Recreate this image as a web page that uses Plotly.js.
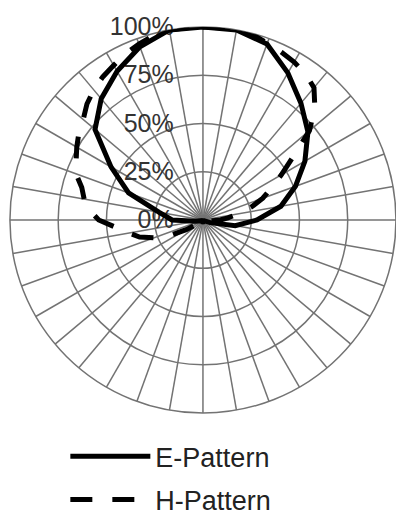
<!DOCTYPE html>
<html>
<head>
<meta charset="utf-8">
<script src="https://cdn.plot.ly/plotly-3.0.1.min.js"></script>
<style>html,body{margin:0;padding:0;background:#fff;overflow:hidden}#chart{width:396px;height:516px}</style>
</head>
<body>
<div id="chart"></div>
<script>
// E-Pattern, sampled every 10 degrees (clockwise from top)
const thetaE = [0,10,20,30,40,50,60,70,80,90,100,110,120,130,140,150,160,170,180,190,200,210,220,230,240,250,260,270,280,290,300,310,320,330,340,350,360];
const rE = [100,100,97,88,79,71,61,51,41,28,17,4,1,1,1,1,1,1,1,1,1,1,1,1,1,1,4,16,23,41,55,73,82,89,95.5,100,100];

// H-Pattern, sampled every 5 degrees
const thetaH = [0,5,10,15,20,25,30,35,40,45,50,55,60,65,70,75,80,85,90,95,100,105,110,120,130,140,150,160,170,180,190,200,210,220,230,235,240,245,250,255,260,265,270,275,280,285,290,295,300,305,310,315,320,325,330,335,340,345,350,355,360];
const rH = [100,100,100,99.5,97.5,96,94.5,92.5,89.5,82,72,57,47,39,33,26,19,13,9,5,2,0.5,0.5,0.5,0.5,0.5,0.5,0.5,0.5,0.5,0.5,0.5,0.5,0.5,0.5,4,10,19,27,34,39,45,54,59,62.5,65,70,72.5,75.5,78.5,81,85,88,90.5,92.5,95,97,99,100,100,100];

const radialTicks = [0,25,50,75,100];
const radialTickText = ['0%','25%','50%','75%','100%'];
const seriesNames = ['E-Pattern','H-Pattern'];

const traces = [
  {type:'scatterpolar', mode:'lines', theta:thetaE, r:rE, name:seriesNames[0], legendgroup:'e',
   line:{color:'#000', width:5}},
  {type:'scatterpolar', mode:'lines', theta:thetaH, r:rH, name:seriesNames[1], legendgroup:'h',
   line:{color:'#000', width:5, dash:'22px,20px'}}
];

const layout = {
  width:396, height:516,
  margin:{l:0,r:0,t:0,b:0, autoexpand:false},
  paper_bgcolor:'#fff',
  font:{family:'"Liberation Sans", Arial, sans-serif', color:'#222'},
  showlegend:true,
  legend:{x:0.165, y:-0.016, xanchor:'left', yanchor:'bottom', orientation:'v',
          traceorder:'grouped', tracegroupgap:5, itemwidth:80,
          font:{size:27, color:'#222', family:'"Liberation Sans", Arial, sans-serif'},
          bgcolor:'rgba(0,0,0,0)'},
  polar:{
    domain:{x:[0.025,1], y:[0.1996,0.9477]},
    bgcolor:'#fff',
    radialaxis:{range:[0,100], tickmode:'array', tickvals:radialTicks, ticktext:radialTickText,
                angle:90, side:'counterclockwise',
                tickangle:90, showline:false, ticks:'outside', ticklen:20, tickcolor:'rgba(0,0,0,0)',
                gridcolor:'#737373', gridwidth:1.5, layer:'below traces',
                tickfont:{size:25, color:'#333', family:'"Liberation Sans", Arial, sans-serif'}},
    angularaxis:{rotation:90, direction:'clockwise', dtick:10, showticklabels:false, ticks:'',
                 gridcolor:'#737373', gridwidth:1.5, linecolor:'#737373', linewidth:1.5, showline:true,
                 layer:'below traces'}
  }
};

Plotly.newPlot('chart', traces, layout, {displayModeBar:false, staticPlot:true});
</script>
</body>
</html>
